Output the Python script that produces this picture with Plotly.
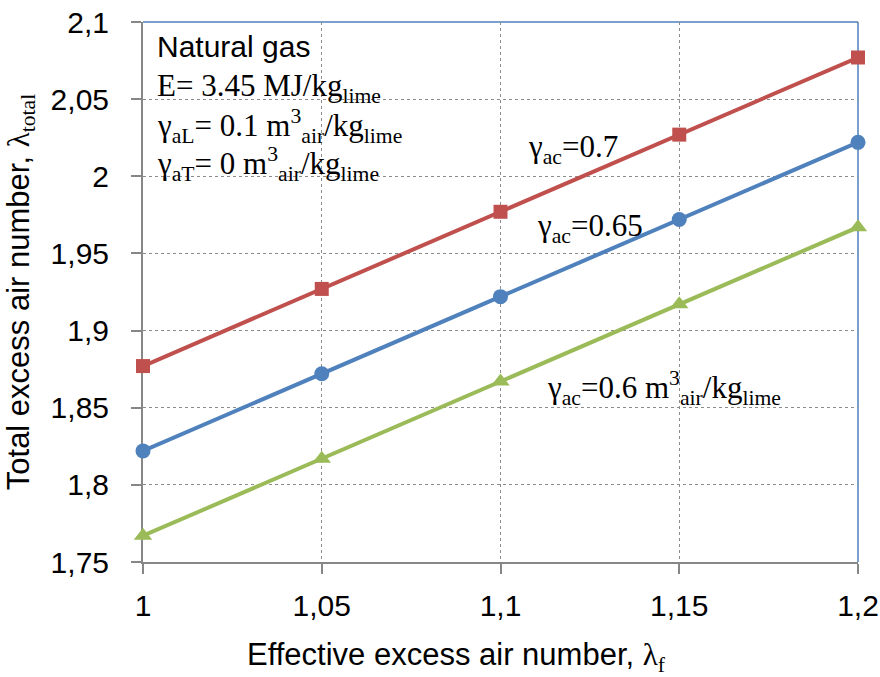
import plotly.graph_objects as go

lambda_f = [1.0, 1.05, 1.1, 1.15, 1.2]
total_07 = [1.877, 1.927, 1.977, 2.027, 2.077]
total_065 = [1.822, 1.872, 1.922, 1.972, 2.022]
total_06 = [1.767, 1.817, 1.867, 1.917, 1.967]

x_ticks = [1.0, 1.05, 1.1, 1.15, 1.2]
x_ticktext = ["1", "1,05", "1,1", "1,15", "1,2"]
y_ticks = [1.75, 1.8, 1.85, 1.9, 1.95, 2.0, 2.05, 2.1]
y_ticktext = ["1,75", "1,8", "1,85", "1,9", "1,95", "2", "2,05", "2,1"]

RED = "#C0504D"
BLUE = "#4F81BD"
GREEN = "#9BBB59"
SANS = "Liberation Sans, Arial, sans-serif"
SERIF = "Liberation Serif, Times New Roman, serif"

fig = go.Figure()
fig.add_trace(go.Scatter(x=lambda_f, y=total_07, mode="lines+markers", cliponaxis=False,
                         line=dict(color=RED, width=4),
                         marker=dict(symbol="square", size=14, color=RED)))
fig.add_trace(go.Scatter(x=lambda_f, y=total_065, mode="lines+markers", cliponaxis=False,
                         line=dict(color=BLUE, width=4),
                         marker=dict(symbol="circle", size=15, color=BLUE)))
fig.add_trace(go.Scatter(x=lambda_f, y=total_06, mode="lines+markers", cliponaxis=False,
                         line=dict(color=GREEN, width=4),
                         marker=dict(symbol="triangle-up", size=16, color=GREEN)))

axis_common = dict(showgrid=True, gridcolor="#8C8C8C", griddash="dot", gridwidth=1,
                   showline=True, linecolor="#878787", linewidth=2,
                   ticks="outside", ticklen=10, tickwidth=2, tickcolor="#878787",
                   tickfont=dict(family=SANS, size=30, color="black"),
                   zeroline=False, automargin=False, layer="below traces")

fig.update_xaxes(range=[1.0, 1.2], tickvals=x_ticks, ticktext=x_ticktext,
                 ticklabelstandoff=6, **axis_common)
fig.update_yaxes(range=[1.75, 2.1], tickvals=y_ticks, ticktext=y_ticktext,
                 ticklabelstandoff=16,
                 title=dict(text="Total excess air number, <span style='font-family:Liberation Serif'>λ<sub>total</sub></span>",
                            font=dict(family=SANS, size=31, color="black"), standoff=12),
                 **axis_common)

# plot-area border (top and right) in blue
fig.add_shape(type="line", xref="paper", yref="paper", x0=0, x1=1, y0=1, y1=1,
              line=dict(color=BLUE, width=1.5), layer="below")
fig.add_shape(type="line", xref="paper", yref="paper", x0=1, x1=1, y0=0, y1=1,
              line=dict(color=BLUE, width=1.5), layer="below")

def py(ypix):
    return (562.3 - ypix) / 539.8

def px(xpix):
    return (xpix - 143) / 715

# x-axis title (placed as annotation to match the reference's left offset)
fig.add_annotation(text="Effective excess air number, <span style='font-family:Liberation Serif'>λ<sub>f</sub></span>",
                   xref="paper", yref="paper", x=px(245), y=py(657),
                   xanchor="left", yanchor="middle", showarrow=False,
                   font=dict(family=SANS, size=31, color="black"))

ann = [
    dict(text="Natural gas", x=px(155), y=py(47), font=dict(family=SANS, size=30)),
    dict(text="E= 3.45 MJ/kg<sub>lime</sub>", x=px(155), y=py(88), font=dict(family=SERIF, size=31)),
    dict(text="γ<sub>aL</sub>= 0.1 m<sup>3</sup><sub>air</sub>/kg<sub>lime</sub>", x=px(155), y=py(126), font=dict(family=SERIF, size=31)),
    dict(text="γ<sub>aT</sub>= 0 m<sup>3</sup><sub>air</sub>/kg<sub>lime</sub>", x=px(155), y=py(164), font=dict(family=SERIF, size=31)),
    dict(text="γ<sub>ac</sub>=0.7", x=px(526), y=py(149), font=dict(family=SERIF, size=31)),
    dict(text="γ<sub>ac</sub>=0.65", x=px(535), y=py(228), font=dict(family=SERIF, size=31)),
    dict(text="γ<sub>ac</sub>=0.6 m<sup>3</sup><sub>air</sub>/kg<sub>lime</sub>", x=px(545), y=py(388), font=dict(family=SERIF, size=31)),
]
for a in ann:
    a["font"]["color"] = "black"
    fig.add_annotation(xref="paper", yref="paper", xanchor="left", yanchor="middle",
                       showarrow=False, **a)

fig.update_layout(width=880, height=677, showlegend=False,
                  paper_bgcolor="white", plot_bgcolor="white",
                  margin=dict(l=143, r=22, t=22, b=115))

fig.write_html("out.html", config={"displayModeBar": False},
               post_script="document.body.style.margin='0';document.body.style.padding='0';")
